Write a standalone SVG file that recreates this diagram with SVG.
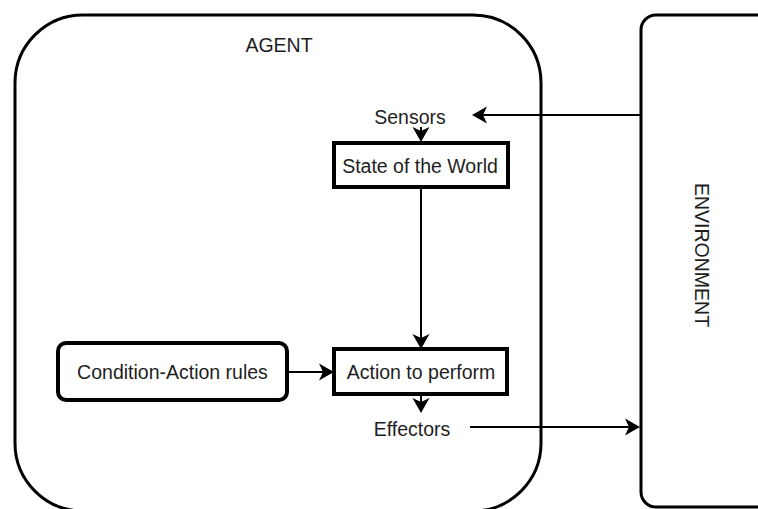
<svg xmlns="http://www.w3.org/2000/svg" width="758" height="509" viewBox="0 0 758 509">
  <style>
    .frame { fill: #ffffff; stroke: #000000; stroke-width: 3; }
    .box { fill: #ffffff; stroke: #000000; stroke-width: 4; }
    .label { font-family: "Liberation Sans", Arial, sans-serif; font-size: 19.5px; fill: #1e1e1e; text-anchor: middle; }
    .edge { fill: none; stroke: #000000; stroke-width: 2; marker-end: url(#arrow); }
  </style>
  <defs>
    <!-- classic notched arrowhead; line ends at the notch, tip sits 11px ahead -->
    <marker id="arrow" viewBox="-5 -9 17 18" refX="0" refY="0" markerWidth="17" markerHeight="18" markerUnits="userSpaceOnUse" orient="auto">
      <path d="M11,0 L-4,-8.5 L0,0 L-4,8.5 Z" fill="#000000"/>
    </marker>
  </defs>
  <rect width="758" height="509" fill="#ffffff"/>

  <g id="agent">
    <rect class="frame" x="15" y="15" width="526" height="496" rx="68" ry="68"/>
    <text class="label" x="279" y="52">AGENT</text>
  </g>

  <g id="environment">
    <rect class="frame" x="641" y="15" width="160" height="492" rx="15" ry="15"/>
    <text class="label" transform="translate(695,255) rotate(90)" x="0" y="0">ENVIRONMENT</text>
  </g>

  <g id="sensors">
    <text class="label" x="410" y="124">Sensors</text>
  </g>

  <g id="state-of-the-world">
    <rect class="box" x="334" y="143" width="174" height="44"/>
    <text class="label" x="420" y="173">State of the World</text>
  </g>

  <g id="condition-action-rules">
    <rect class="box" x="58" y="343" width="229" height="57" rx="8" ry="8"/>
    <text class="label" x="172.5" y="379">Condition-Action rules</text>
  </g>

  <g id="action-to-perform">
    <rect class="box" x="334" y="349" width="173" height="45"/>
    <text class="label" x="421" y="379">Action to perform</text>
  </g>

  <g id="effectors">
    <text class="label" x="412" y="436">Effectors</text>
  </g>

  <g id="connectors">
    <path class="edge" d="M641,115 L483,115"/>
    <path class="edge" d="M421,127 L421,131"/>
    <path class="edge" d="M421,187 L421,338"/>
    <path class="edge" d="M287,372 L323,372"/>
    <path class="edge" d="M421,394 L421,402"/>
    <path class="edge" d="M470,427 L629,427"/>
  </g>
</svg>
